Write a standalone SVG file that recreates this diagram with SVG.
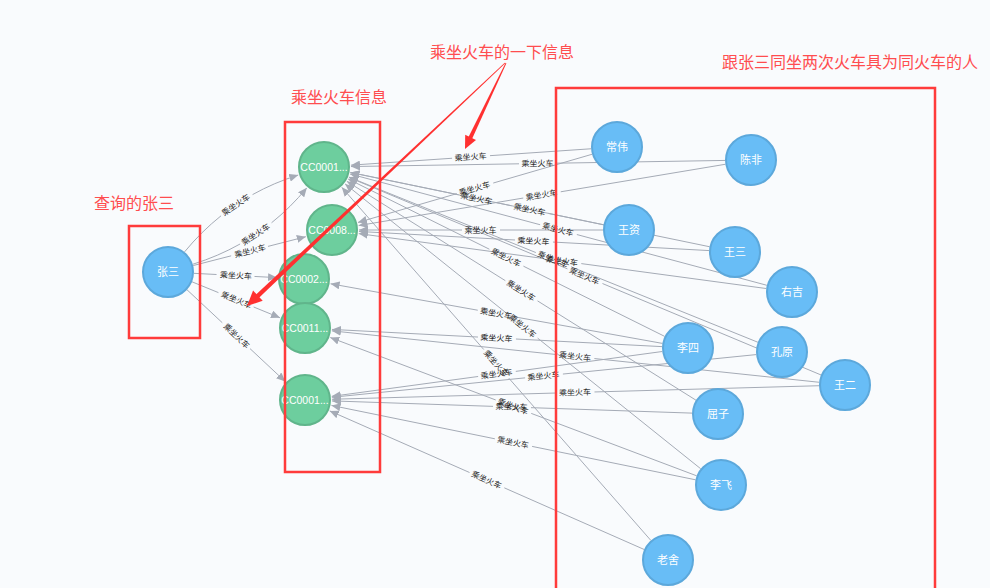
<svg xmlns="http://www.w3.org/2000/svg" width="990" height="588" viewBox="0 0 990 588">
<defs>
<style>
.e{fill:none;stroke:#a5abb6;stroke-width:1;marker-end:url(#ah)}
.el{font-family:"Noto Sans CJK SC",sans-serif;font-size:8px;fill:#222;text-anchor:middle}
.p circle{fill:#68bdf6;stroke:#5ca8db;stroke-width:2}
.t circle{fill:#6dce9e;stroke:#60b58b;stroke-width:2}
.p text{font-family:"Noto Sans CJK SC",sans-serif;font-size:11px;fill:#fff;text-anchor:middle}
.t text{font-family:"Liberation Sans",Arial,sans-serif;font-size:10.5px;fill:#fff;text-anchor:middle}
.rb{fill:none;stroke:#ff3b3b;stroke-width:2.5}
.rt{font-family:"Noto Sans CJK SC",sans-serif;font-size:16px;fill:#ff4d4f}
.ra{fill:#ff3030}
</style>
<marker id="ah" markerUnits="userSpaceOnUse" markerWidth="9" markerHeight="8" viewBox="0 0 9 8" refX="9" refY="4" orient="auto">
<path d="M0,0 L9,4 L0,8 z" fill="#a5abb6"/>
</marker>
</defs>
<rect width="990" height="588" fill="#f9fbfd"/>
<g id="connectors">
<path class="e" d="M184.5,251.93 Q230.36,196.27 298.23,175.06" stroke-dasharray="51.5 38 1000"/>
<path class="e" d="M192.82,264.24 Q261.64,242.73 306.84,187.84" stroke-dasharray="51.5 38 1000"/>
<line class="e" x1="193.19" y1="265.55" x2="305.85" y2="236.7" stroke-dasharray="39.2 38 1000"/>
<line class="e" x1="193.97" y1="273.34" x2="277.03" y2="277.61" stroke-dasharray="22.6 38 1000"/>
<line class="e" x1="192.07" y1="281.84" x2="280.01" y2="317.78" stroke-dasharray="28.5 38 1000"/>
<line class="e" x1="187" y1="289.75" x2="285.27" y2="381.57" stroke-dasharray="48.3 38 1000"/>
<line class="e" x1="591.06" y1="148.77" x2="350.94" y2="165.16" stroke-dasharray="101.3 38 1000"/>
<line class="e" x1="592.04" y1="154.27" x2="357.92" y2="222.45" stroke-dasharray="102.9 38 1000"/>
<line class="e" x1="725" y1="160.43" x2="351" y2="166.56" stroke-dasharray="168 38 1000"/>
<line class="e" x1="725.36" y1="164.28" x2="358.63" y2="225.55" stroke-dasharray="166.9 38 1000"/>
<line class="e" x1="603.54" y1="224.74" x2="350.44" y2="172.46" stroke-dasharray="110.2 38 1000"/>
<line class="e" x1="603" y1="230" x2="359" y2="230" stroke-dasharray="103 38 1000"/>
<line class="e" x1="709.54" y1="246.73" x2="350.44" y2="172.47" stroke-dasharray="164.4 38 1000"/>
<line class="e" x1="709.04" y1="250.58" x2="358.96" y2="231.47" stroke-dasharray="156.3 38 1000"/>
<line class="e" x1="766.88" y1="285.29" x2="350.08" y2="173.97" stroke-dasharray="196.7 38 1000"/>
<line class="e" x1="766.23" y1="288.53" x2="358.76" y2="233.61" stroke-dasharray="186.6 38 1000"/>
<line class="e" x1="664.72" y1="336.42" x2="348.18" y2="179.02" stroke-dasharray="157.8 38 1000"/>
<line class="e" x1="662.41" y1="343.4" x2="330.57" y2="283.78" stroke-dasharray="149.6 38 1000"/>
<line class="e" x1="662.03" y1="346.64" x2="331.96" y2="329.41" stroke-dasharray="146.3 38 1000"/>
<line class="e" x1="662.24" y1="351.5" x2="331.75" y2="396.37" stroke-dasharray="147.8 38 1000"/>
<line class="e" x1="757.89" y1="342.26" x2="349.03" y2="177.11" stroke-dasharray="201.5 38 1000"/>
<line class="e" x1="756.13" y1="354.6" x2="331.87" y2="397.3" stroke-dasharray="194.2 38 1000"/>
<line class="e" x1="821.02" y1="374.96" x2="348.91" y2="177.42" stroke-dasharray="236.9 38 1000"/>
<line class="e" x1="819.14" y1="382.27" x2="331.85" y2="330.83" stroke-dasharray="226 38 1000"/>
<line class="e" x1="819.01" y1="385.72" x2="331.99" y2="399.25" stroke-dasharray="224.6 38 1000"/>
<line class="e" x1="695.97" y1="400.19" x2="346.88" y2="181.34" stroke-dasharray="187 38 1000"/>
<line class="e" x1="692.02" y1="413.12" x2="331.98" y2="400.91" stroke-dasharray="161.1 38 1000"/>
<line class="e" x1="700.71" y1="468.75" x2="345.07" y2="183.88" stroke-dasharray="208.9 38 1000"/>
<line class="e" x1="696.67" y1="475.82" x2="330.26" y2="337.53" stroke-dasharray="176.8 38 1000"/>
<line class="e" x1="695.53" y1="479.79" x2="331.45" y2="405.41" stroke-dasharray="166.8 38 1000"/>
<line class="e" x1="650.88" y1="540.44" x2="341.78" y2="187.32" stroke-dasharray="215.7 38 1000"/>
<line class="e" x1="644.21" y1="549.51" x2="329.71" y2="410.89" stroke-dasharray="152.9 38 1000"/>
<g id="edge-labels">
<text class="el" transform="translate(235.9 204.9) rotate(-34.1)" y="2.8">乘坐火车</text>
<text class="el" transform="translate(255.7 234.4) rotate(-33.8)" y="2.8">乘坐火车</text>
<text class="el" transform="translate(250 251) rotate(-14.4)" y="2.8">乘坐火车</text>
<text class="el" transform="translate(236 275.5) rotate(3)" y="2.8">乘坐火车</text>
<text class="el" transform="translate(236.5 300) rotate(22.2)" y="2.8">乘坐火车</text>
<text class="el" transform="translate(236.5 336) rotate(43.1)" y="2.8">乘坐火车</text>
<text class="el" transform="translate(470.5 157) rotate(-3.9)" y="2.8">乘坐火车</text>
<text class="el" transform="translate(474.5 188.5) rotate(-16.2)" y="2.8">乘坐火车</text>
<text class="el" transform="translate(537.5 163.5) rotate(-0.9)" y="2.8">乘坐火车</text>
<text class="el" transform="translate(541.5 195) rotate(-9.5)" y="2.8">乘坐火车</text>
<text class="el" transform="translate(476.5 198.5) rotate(11.7)" y="2.8">乘坐火车</text>
<text class="el" transform="translate(480.5 230)" y="2.8">乘坐火车</text>
<text class="el" transform="translate(529.5 209.5) rotate(11.7)" y="2.8">乘坐火车</text>
<text class="el" transform="translate(533.5 241) rotate(3.1)" y="2.8">乘坐火车</text>
<text class="el" transform="translate(558 229.5) rotate(15)" y="2.8">乘坐火车</text>
<text class="el" transform="translate(562 261) rotate(7.7)" y="2.8">乘坐火车</text>
<text class="el" transform="translate(506 257.5) rotate(26.4)" y="2.8">乘坐火车</text>
<text class="el" transform="translate(496 313.5) rotate(10.2)" y="2.8">乘坐火车</text>
<text class="el" transform="translate(496.5 338) rotate(3)" y="2.8">乘坐火车</text>
<text class="el" transform="translate(496.5 374) rotate(-7.7)" y="2.8">乘坐火车</text>
<text class="el" transform="translate(553 259.5) rotate(22)" y="2.8">乘坐火车</text>
<text class="el" transform="translate(543.5 376) rotate(-5.8)" y="2.8">乘坐火车</text>
<text class="el" transform="translate(584.5 276) rotate(22.7)" y="2.8">乘坐火车</text>
<text class="el" transform="translate(575 356.5) rotate(6)" y="2.8">乘坐火车</text>
<text class="el" transform="translate(575 392.5) rotate(-1.6)" y="2.8">乘坐火车</text>
<text class="el" transform="translate(521 290.5) rotate(32.1)" y="2.8">乘坐火车</text>
<text class="el" transform="translate(511.5 407) rotate(1.9)" y="2.8">乘坐火车</text>
<text class="el" transform="translate(522.5 326) rotate(38.7)" y="2.8">乘坐火车</text>
<text class="el" transform="translate(513 406.5) rotate(20.7)" y="2.8">乘坐火车</text>
<text class="el" transform="translate(513 442.5) rotate(11.6)" y="2.8">乘坐火车</text>
<text class="el" transform="translate(496 363.5) rotate(48.8)" y="2.8">乘坐火车</text>
<text class="el" transform="translate(486.5 480) rotate(23.8)" y="2.8">乘坐火车</text>
</g>
</g>
<g id="node-zhangsan" class="p"><circle cx="168" cy="272" r="25"/><text x="168" y="276">张三</text></g>
<g id="node-train1" class="t"><circle cx="324" cy="167" r="25"/><text x="324" y="171">CC0001...</text></g>
<g id="node-train2" class="t"><circle cx="332" cy="230" r="25"/><text x="332" y="234">CC0008...</text></g>
<g id="node-train3" class="t"><circle cx="304" cy="279" r="25"/><text x="304" y="283">CC0002...</text></g>
<g id="node-train4" class="t"><circle cx="305" cy="328" r="25"/><text x="305" y="332">CC0011...</text></g>
<g id="node-train5" class="t"><circle cx="305" cy="400" r="25"/><text x="305" y="404">CC0001...</text></g>
<g id="node-changwei" class="p"><circle cx="617" cy="147" r="25"/><text x="617" y="151">常伟</text></g>
<g id="node-chenfei" class="p"><circle cx="751" cy="160" r="25"/><text x="751" y="164">陈非</text></g>
<g id="node-wangzi" class="p"><circle cx="629" cy="230" r="25"/><text x="629" y="234">王资</text></g>
<g id="node-wangsan" class="p"><circle cx="735" cy="252" r="25"/><text x="735" y="256">王三</text></g>
<g id="node-youji" class="p"><circle cx="792" cy="292" r="25"/><text x="792" y="296">右吉</text></g>
<g id="node-lisi" class="p"><circle cx="688" cy="348" r="25"/><text x="688" y="352">李四</text></g>
<g id="node-kongyuan" class="p"><circle cx="782" cy="352" r="25"/><text x="782" y="356">孔原</text></g>
<g id="node-wanger" class="p"><circle cx="845" cy="385" r="25"/><text x="845" y="389">王二</text></g>
<g id="node-quzi" class="p"><circle cx="718" cy="414" r="25"/><text x="718" y="418">屈子</text></g>
<g id="node-lifei" class="p"><circle cx="721" cy="485" r="25"/><text x="721" y="489">李飞</text></g>
<g id="node-laoshe" class="p"><circle cx="668" cy="560" r="25"/><text x="668" y="564">老舍</text></g>
<g id="annotations">
<rect class="rb" x="129" y="226" width="71" height="112"/>
<rect class="rb" x="285" y="122" width="95" height="350"/>
<rect class="rb" x="556" y="88" width="379" height="510"/>
<text class="rt" x="94" y="209">查询的张三</text>
<text class="rt" x="291" y="103">乘坐火车信息</text>
<text class="rt" x="430" y="58">乘坐火车的一下信息</text>
<text class="rt" x="722" y="68">跟张三同坐两次火车具为同火车的人</text>
<polygon class="ra" points="505.3,63.3 257.2,299.4 254.2,296.2 504.7,62.7"/>
<polygon class="ra" points="247,306 262.7,300.8 253.1,290.6"/>
<polygon class="ra" points="506.4,63.2 471.1,140.9 467.5,139.1 505.6,62.8"/>
<polygon class="ra" points="465,149 476,139.9 465.2,134.7"/>
</g>
</svg>
